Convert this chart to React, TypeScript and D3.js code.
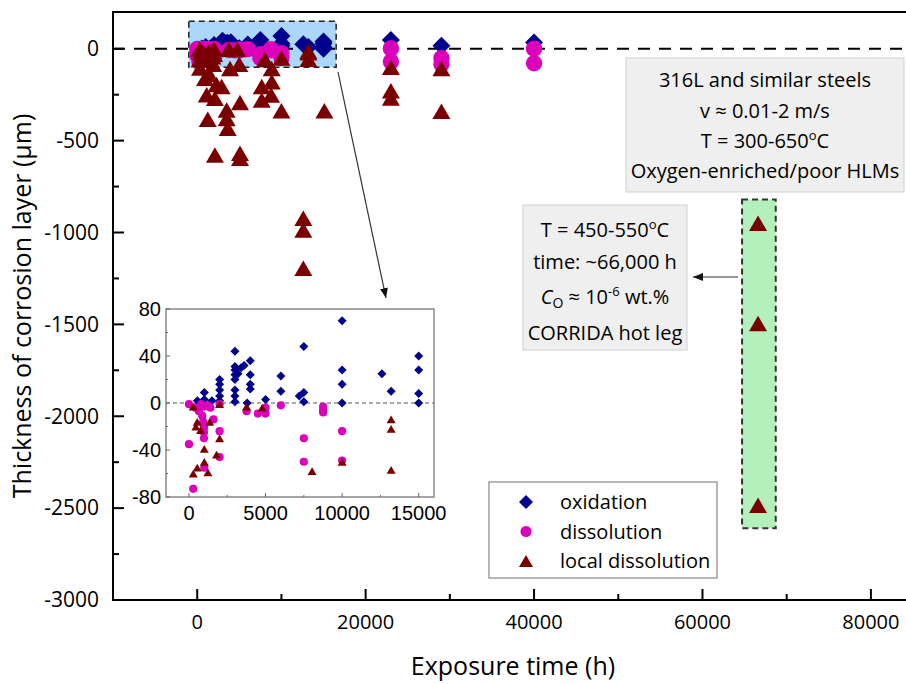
import React from "react";
import * as d3 from "d3";

type P = [number, number];

// [exposure time (h), thickness (µm)]
const oxidation: P[] = [
  [550, 2], [1000, 9], [1000, 3], [1500, 2], [2000, 20], [2000, 16], [2000, 11], [2000, 6], [2000, 2],
  [3000, 44], [3000, 31], [3000, 28], [3000, 24], [3000, 20], [3000, 11], [3000, 6], [3000, 1],
  [3200, 25], [3400, 30], [3600, 32], [3800, 0], [4000, 36], [4000, 24], [4000, 16], [4000, 12],
  [5000, 3], [6000, 23], [6000, 10], [7200, 6], [7500, 48], [7500, 9], [7500, 1],
  [10000, 70], [10000, 28], [10000, 16], [10000, 0], [12600, 25], [13200, 10],
  [15000, 40], [15000, 28], [15000, 8], [15000, 0],
  [23000, 47], [29000, 16], [40000, 34],
];

const dissolution: P[] = [
  [0, -35], [280, -73], [0, -1], [430, -4], [650, -7], [800, -1], [870, -11], [930, -16], [980, -21],
  [980, -25], [980, -30], [1000, -3], [1000, -55], [1200, -2], [1400, -4], [1600, -14],
  [2000, -1], [2000, -24], [2000, -46], [3760, -7], [4500, -9], [5000, -9], [5000, -4],
  [6000, -2], [7500, -30], [7500, -50], [8760, -3], [8760, -6], [8760, -8], [10000, -24], [10000, -49],
  [23000, 2], [23000, -70], [29000, -51], [29000, -85], [40000, 0], [40000, -79],
];

const localDissolution: P[] = [
  [280, -3], [540, -16], [450, -20], [540, -55], [280, -60], [760, -23], [1000, -39], [1000, -50],
  [1240, -59], [1350, -16], [2000, -1], [2000, -30], [1800, -44], [3760, -3], [4780, -4],
  [8040, -58], [10000, -50], [13200, -14], [13200, -22], [13200, -57],
  [330, -105], [930, -160], [1450, -140], [2300, -195], [2900, -205], [1130, -250], [2100, -270],
  [1900, -84], [5000, -84], [3900, -107], [8850, -107], [7660, -206], [8850, -179], [7660, -279],
  [8770, -252], [5080, -293], [10000, -337], [15100, -337], [1250, -384], [3500, -333], [3500, -379],
  [3620, -433], [2100, -578], [5080, -569], [5080, -596],
  [12600, -922], [12600, -986], [12600, -1195],
  [23000, -100], [23000, -228], [23000, -268], [29000, -108], [29000, -340],
  [66600, -950], [66600, -1495], [66600, -2485],
];

const xTicks = [0, 20000, 40000, 60000, 80000];
const xMinorTicks = [10000, 30000, 50000, 70000];
const yTicks = [0, -500, -1000, -1500, -2000, -2500, -3000];
const yMinorTicks = [-250, -750, -1250, -1750, -2250, -2750];
const insetXTicks = [0, 5000, 10000, 15000];
const insetXMinor = [2500, 7500, 12500];
const insetYTicks = [80, 40, 0, -40, -80];
const insetYMinor = [60, 20, -20, -60];

const zoomBoxX: P = [-1000, 16500];
const zoomBoxY: P = [150, -100];
const corridaBoxX: P = [64700, 68700];
const corridaBoxY: P = [-820, -2610];

const legendLabels = ["oxidation", "dissolution", "local dissolution"];

const C_OX = "#00008e";
const C_DIS = "#dd00bb";
const C_LOC = "#7a0000";

const diamond = (cx: number, cy: number, r: number) =>
  `M${cx},${cy - r}L${cx + r},${cy}L${cx},${cy + r}L${cx - r},${cy}Z`;
const triangle = (cx: number, cy: number, w: number, h: number) =>
  `M${cx},${cy - h / 2}L${cx + w / 2},${cy + h / 2}L${cx - w / 2},${cy + h / 2}Z`;

const TICK_FONT = "'Open Sans', sans-serif";
const TXT_FONT = "'Open Sans', sans-serif";
const ARIAL = "'Liberation Sans', Arial, sans-serif";

export default function App() {
  const W = 906, H = 684;
  const x = d3.scaleLinear().domain([-10000, 85000]).range([113, 913]);
  const y = d3.scaleLinear().domain([-3000, 200]).range([600, 12]);
  const ix = d3.scaleLinear().domain([-1500, 16000]).range([166, 434]);
  const iy = d3.scaleLinear().domain([-80, 80]).range([497, 309]);

  const series = (
    sx: d3.ScaleLinear<number, number>,
    sy: d3.ScaleLinear<number, number>,
    k: number
  ) => (
    <g>
      {oxidation.map((d, i) => (
        <path key={"o" + i} d={diamond(sx(d[0]), sy(d[1]), 9 * k)} fill={C_OX} />
      ))}
      {dissolution.map((d, i) => (
        <circle key={"d" + i} cx={sx(d[0])} cy={sy(d[1])} r={8.2 * k} fill={C_DIS} />
      ))}
      {localDissolution.map((d, i) => (
        <path key={"l" + i} d={triangle(sx(d[0]), sy(d[1]), 18 * k, 15.5 * k)} fill={C_LOC} />
      ))}
    </g>
  );

  const sup = (t: string) => (
    <tspan fontSize={13} dy={-8}>{t}</tspan>
  );

  return (
    <svg
      width={W}
      height={H}
      style={{ position: "absolute", left: 0, top: 0, background: "#fff" }}
    >
      <defs>
        <marker id="ah" viewBox="0 0 10 8" refX="10" refY="4" markerWidth="10" markerHeight="8"
          markerUnits="userSpaceOnUse" orient="auto">
          <path d="M0,0L10,4L0,8Z" fill="#111" />
        </marker>
        <clipPath id="insetClip">
          <rect x={166} y={309} width={268} height={188} />
        </clipPath>
      </defs>

      {/* blue zoom box fill */}
      <rect x={x(zoomBoxX[0])} y={y(zoomBoxY[0])} width={x(zoomBoxX[1]) - x(zoomBoxX[0])}
        height={y(zoomBoxY[1]) - y(zoomBoxY[0])} fill="#abd8fa" />
      {/* green box fill */}
      <rect x={x(corridaBoxX[0])} y={y(corridaBoxY[0])} width={x(corridaBoxX[1]) - x(corridaBoxX[0])}
        height={y(corridaBoxY[1]) - y(corridaBoxY[0])} fill="#b4f0b9" />

      {/* zero dashed line */}
      <line x1={113} x2={913} y1={y(0)} y2={y(0)} stroke="#000" strokeWidth={2} strokeDasharray="12 9" />

      {/* box borders */}
      <rect x={x(zoomBoxX[0])} y={y(zoomBoxY[0])} width={x(zoomBoxX[1]) - x(zoomBoxX[0])}
        height={y(zoomBoxY[1]) - y(zoomBoxY[0])} fill="none" stroke="#222" strokeWidth={1.5}
        strokeDasharray="6 4" />
      <rect x={x(corridaBoxX[0])} y={y(corridaBoxY[0])} width={x(corridaBoxX[1]) - x(corridaBoxX[0])}
        height={y(corridaBoxY[1]) - y(corridaBoxY[0])} fill="none" stroke="#333" strokeWidth={2}
        strokeDasharray="6 4" />

      {series(x, y, 1)}

      {/* frame */}
      <rect x={113} y={12} width={800} height={588} fill="none" stroke="#000" strokeWidth={2} />
      {yTicks.map((t) => (
        <g key={"yt" + t}>
          <line x1={113} x2={124} y1={y(t)} y2={y(t)} stroke="#000" strokeWidth={2} />
          <text x={99} y={y(t)} dy="0.35em" textAnchor="end" fontFamily={TICK_FONT} fontSize={21} fill="#000">{t}</text>
        </g>
      ))}
      {yMinorTicks.map((t) => (
        <line key={"ym" + t} x1={113} x2={119} y1={y(t)} y2={y(t)} stroke="#000" strokeWidth={2} />
      ))}
      {xTicks.map((t) => (
        <g key={"xt" + t}>
          <line x1={x(t)} x2={x(t)} y1={600} y2={589} stroke="#000" strokeWidth={2} />
          <text x={x(t)} y={629} textAnchor="middle" fontFamily={TICK_FONT} fontSize={20} fill="#000">{t}</text>
        </g>
      ))}
      {xMinorTicks.map((t) => (
        <line key={"xm" + t} x1={x(t)} x2={x(t)} y1={600} y2={594} stroke="#000" strokeWidth={2} />
      ))}

      <text x={513} y={675} textAnchor="middle" fontFamily={TXT_FONT} fontSize={25} fill="#000">Exposure time (h)</text>
      <text transform="translate(31,306) rotate(-90)" textAnchor="middle" fontFamily={TXT_FONT} fontSize={25} fill="#000">
        Thickness of corrosion layer (µm)
      </text>

      {/* annotation box 1 */}
      <rect x={626} y={58} width={278} height={134} fill="#efefef" stroke="#cfcfcf" strokeWidth={1} />
      <g fontFamily={TXT_FONT} fontSize={20} textAnchor="middle" fill="#000">
        <text x={765} y={87}>316L and similar steels</text>
        <text x={765} y={118}>v ≈ 0.01-2 m/s</text>
        <text x={765} y={148}>T = 300-650{sup("o")}<tspan dy={8}>C</tspan></text>
        <text x={765} y={178}>Oxygen-enriched/poor HLMs</text>
      </g>

      {/* annotation box 2 */}
      <rect x={523} y={205} width={164} height={145} fill="#efefef" stroke="#cfcfcf" strokeWidth={1} />
      <g fontFamily={TXT_FONT} fontSize={20} textAnchor="middle" fill="#000">
        <text x={605} y={237}>T = 450-550{sup("o")}<tspan dy={8}>C</tspan></text>
        <text x={605} y={269}>time: ~66,000 h</text>
        <text x={605} y={304}>
          <tspan fontStyle="italic">C</tspan>
          <tspan fontSize={14} dy={4}>O</tspan>
          <tspan dy={-4}> ≈ 10</tspan>
          <tspan fontSize={13} dy={-8}>-6</tspan>
          <tspan dy={8}> wt.%</tspan>
        </text>
        <text x={605} y={340}>CORRIDA hot leg</text>
      </g>

      {/* arrows */}
      <line x1={338} y1={72} x2={386} y2={298} stroke="#333" strokeWidth={1.2} markerEnd="url(#ah)" />
      <line x1={738} y1={277} x2={693} y2={277} stroke="#333" strokeWidth={1.2} markerEnd="url(#ah)" />

      {/* inset */}
      <rect x={166} y={309} width={268} height={188} fill="#fff" />
      <line x1={166} x2={434} y1={iy(0)} y2={iy(0)} stroke="#555" strokeWidth={1} strokeDasharray="4 3" />
      <g clipPath="url(#insetClip)">{series(ix, iy, 0.5)}</g>
      <rect x={166} y={309} width={268} height={188} fill="none" stroke="#888" strokeWidth={1.5} />
      {insetYTicks.map((t) => (
        <g key={"iyt" + t}>
          <line x1={166} x2={170} y1={iy(t)} y2={iy(t)} stroke="#666" strokeWidth={1} />
          <text x={161} y={iy(t)} dy="0.35em" textAnchor="end" fontFamily={ARIAL} fontSize={20} fill="#000">{t}</text>
        </g>
      ))}
      {insetYMinor.map((t) => (
        <line key={"iym" + t} x1={166} x2={168} y1={iy(t)} y2={iy(t)} stroke="#666" strokeWidth={1} />
      ))}
      {insetXTicks.map((t) => (
        <g key={"ixt" + t}>
          <line x1={ix(t)} x2={ix(t)} y1={497} y2={493} stroke="#666" strokeWidth={1} />
          <text x={ix(t)} y={520} textAnchor="middle" fontFamily={ARIAL} fontSize={20} fill="#000">{t}</text>
        </g>
      ))}
      {insetXMinor.map((t) => (
        <line key={"ixm" + t} x1={ix(t)} x2={ix(t)} y1={497} y2={495} stroke="#666" strokeWidth={1} />
      ))}

      {/* legend */}
      <rect x={489} y={482} width={228} height={96} fill="#fff" stroke="#888" strokeWidth={1.2} />
      {legendLabels.map((lab, i) => {
        const cy = 502 + i * 29.5;
        return (
          <g key={lab}>
            {i === 0 && <path d={diamond(526, cy, 7)} fill={C_OX} />}
            {i === 1 && <circle cx={526} cy={cy} r={5.5} fill={C_DIS} />}
            {i === 2 && <path d={triangle(526, cy, 14, 12)} fill={C_LOC} />}
            <text x={560} y={cy + 7} fontFamily={TXT_FONT} fontSize={20} fill="#000">{lab}</text>
          </g>
        );
      })}
    </svg>
  );
}
